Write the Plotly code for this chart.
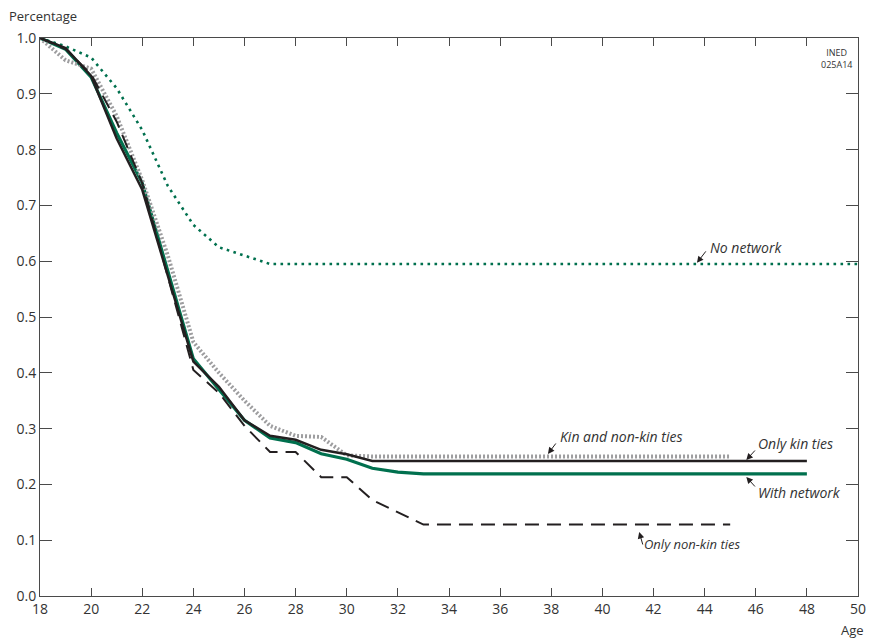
import plotly.graph_objects as go

# ---- data ----
ages_no_network = [18, 19, 20, 21, 22, 23, 24, 25, 26, 27, 28, 29, 30, 31, 32, 33, 34,
                   35, 36, 37, 38, 39, 40, 41, 42, 43, 44, 45, 46, 47, 48, 49, 50]
no_network = [1.0, 0.985, 0.965, 0.91, 0.835, 0.735, 0.665, 0.625, 0.61, 0.595, 0.595,
              0.595, 0.595, 0.595, 0.595, 0.595, 0.595, 0.595, 0.595, 0.595, 0.595,
              0.595, 0.595, 0.595, 0.595, 0.595, 0.595, 0.595, 0.595, 0.595, 0.595,
              0.595, 0.595]

ages_48 = [18, 19, 20, 21, 22, 23, 24, 25, 26, 27, 28, 29, 30, 31, 32, 33, 34, 35, 36,
           37, 38, 39, 40, 41, 42, 43, 44, 45, 46, 47, 48]
with_network = [1.0, 0.98, 0.93, 0.83, 0.74, 0.585, 0.425, 0.37, 0.315, 0.283, 0.275,
                0.255, 0.245, 0.229, 0.222, 0.219, 0.219, 0.219, 0.219, 0.219, 0.219,
                0.219, 0.219, 0.219, 0.219, 0.219, 0.219, 0.219, 0.219, 0.219, 0.219]
only_kin = [1.0, 0.982, 0.932, 0.82, 0.728, 0.575, 0.42, 0.375, 0.315, 0.287, 0.28,
            0.262, 0.254, 0.242, 0.242, 0.242, 0.242, 0.242, 0.242, 0.242, 0.242,
            0.242, 0.242, 0.242, 0.242, 0.242, 0.242, 0.242, 0.242, 0.242, 0.242]

ages_45 = [18, 19, 20, 21, 22, 23, 24, 25, 26, 27, 28, 29, 30, 31, 32, 33, 34, 35, 36,
           37, 38, 39, 40, 41, 42, 43, 44, 45]
kin_and_nonkin = [1.0, 0.96, 0.945, 0.86, 0.745, 0.61, 0.455, 0.40, 0.35, 0.305, 0.287,
                  0.285, 0.252, 0.25, 0.25, 0.25, 0.25, 0.25, 0.25, 0.25, 0.25, 0.25,
                  0.25, 0.25, 0.25, 0.25, 0.25, 0.25]
only_nonkin = [1.0, 0.98, 0.935, 0.85, 0.74, 0.57, 0.405, 0.364, 0.305, 0.258, 0.258,
               0.213, 0.213, 0.172, 0.15, 0.128, 0.128, 0.128, 0.128, 0.128, 0.128,
               0.128, 0.128, 0.128, 0.128, 0.128, 0.128, 0.128]

x_ticks = [18, 20, 22, 24, 26, 28, 30, 32, 34, 36, 38, 40, 42, 44, 46, 48, 50]
y_ticks = [0.0, 0.1, 0.2, 0.3, 0.4, 0.5, 0.6, 0.7, 0.8, 0.9, 1.0]

# label texts with arrow head (age, value) and text anchor (age, value)
label_texts = ["No network", "Kin and non-kin ties", "Only kin ties", "With network",
               "Only non-kin ties"]
label_heads = [(43.70, 0.597), (37.87, 0.2545), (45.63, 0.2437), (45.63, 0.2133),
               (41.44, 0.1147)]
label_pos = [(44.15, 0.6254), (38.26, 0.285), (46.01, 0.274), (46.01, 0.1846),
             (41.55, 0.0932)]

GREEN = "#00704e"
BLACK = "#231f20"
GREY = "#9d9d9f"
TXT = "#333333"
FONT = "Open Sans"

fig = go.Figure()
fig.add_trace(go.Scatter(x=ages_no_network, y=no_network, mode="lines",
                         line=dict(color=GREEN, width=2.6, dash="2.6px,4.4px"),
                         name="No network"))
fig.add_trace(go.Scatter(x=ages_48, y=with_network, mode="lines",
                         line=dict(color=GREEN, width=3.2), name="With network"))
fig.add_trace(go.Scatter(x=ages_45, y=kin_and_nonkin, mode="lines",
                         line=dict(color=GREY, width=4, dash="2px,2px"),
                         name="Kin and non-kin ties"))
fig.add_trace(go.Scatter(x=ages_48, y=only_kin, mode="lines",
                         line=dict(color=BLACK, width=2.5), name="Only kin ties"))
fig.add_trace(go.Scatter(x=ages_45, y=only_nonkin, mode="lines",
                         line=dict(color=BLACK, width=2, dash="14px,8px"),
                         name="Only non-kin ties"))

arrow_offsets = [(10, -13), (9, -12), (10, -11), (10, 11), (4, 14)]
for txt, (hx, hy), (tx, ty), (ax, ay) in zip(label_texts, label_heads, label_pos,
                                              arrow_offsets):
    fig.add_annotation(x=hx, y=hy, xref="x", yref="y", ax=ax, ay=ay, text="",
                       showarrow=True, arrowhead=2, arrowsize=1.3, arrowwidth=1,
                       arrowcolor=BLACK, standoff=0)
    fig.add_annotation(x=tx, y=ty, xref="x", yref="y", text="<i>" + txt + "</i>",
                       showarrow=False, xanchor="left", yanchor="middle",
                       font=dict(family=FONT, size=13 if txt == "Only non-kin ties" else 14,
                                 color=TXT))

fig.add_annotation(xref="paper", yref="paper", x=1.0, y=1.0, xanchor="right",
                   yanchor="top", xshift=-4, yshift=-6, showarrow=False,
                   text="INED<br>025A14", align="center",
                   font=dict(family=FONT, size=9, color=TXT))
fig.add_annotation(xref="paper", yref="paper", x=0, y=1, xanchor="left",
                   yanchor="bottom", xshift=-33, yshift=11, showarrow=False,
                   text="Percentage", font=dict(family=FONT, size=13, color=TXT))
fig.add_annotation(xref="paper", yref="paper", x=1, y=0, xanchor="right",
                   yanchor="top", xshift=8, yshift=-23, showarrow=False,
                   text="Age", font=dict(family=FONT, size=13, color=TXT))

axis_common = dict(showline=True, linecolor="#4a4a4a", linewidth=1, mirror="ticks",
                   ticks="inside", tickcolor="#4a4a4a", tickwidth=1, showgrid=False,
                   zeroline=False, tickfont=dict(family=FONT, size=14, color=TXT))

fig.update_xaxes(range=[18, 50], tickvals=x_ticks, ticklen=8, **axis_common)
fig.update_yaxes(range=[0, 1], tickvals=y_ticks, tickformat=".1f", ticklen=12,
                 **axis_common)

fig.update_layout(width=876, height=640, plot_bgcolor="white", paper_bgcolor="white",
                  showlegend=False, margin=dict(l=40, r=10, t=38, b=44),
                  font=dict(family=FONT, color=TXT))

fig.write_html("out.html", config={"displayModeBar": False},
               post_script="document.body.style.margin='0';"
                           "document.body.style.overflow='hidden';")
